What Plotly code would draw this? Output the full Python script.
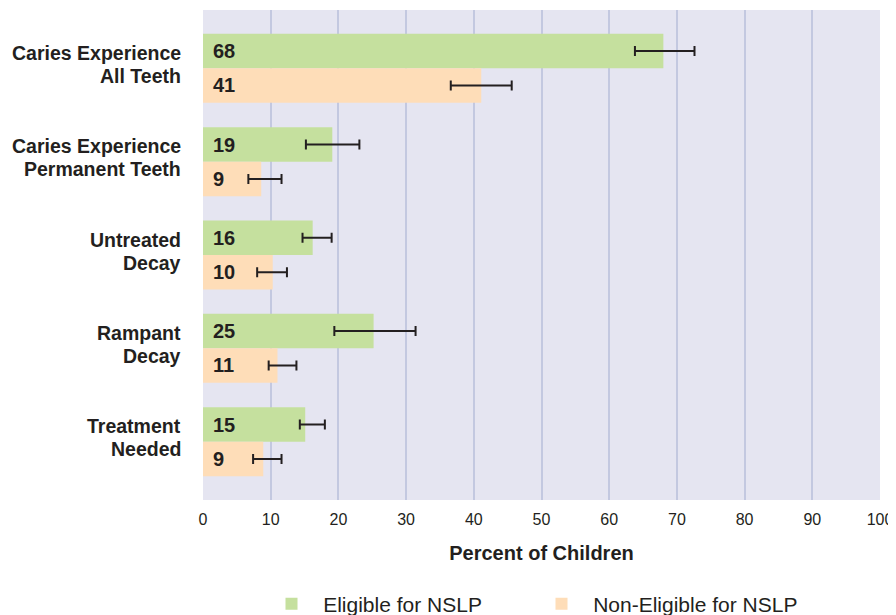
import plotly.graph_objects as go

categories = ["Caries Experience<br>All Teeth", "Caries Experience<br>Permanent Teeth",
              "Untreated<br>Decay", "Rampant<br>Decay", "Treatment<br>Needed"]
eligible = [68.0, 19.1, 16.2, 25.2, 15.1]
eligible_labels = ["68", "19", "16", "25", "15"]
eligible_low = [63.8, 15.2, 14.7, 19.4, 14.3]
eligible_high = [72.6, 23.1, 19.0, 31.4, 18.0]
non_eligible = [41.1, 8.6, 10.3, 11.0, 8.9]
non_eligible_labels = ["41", "9", "10", "11", "9"]
non_eligible_low = [36.6, 6.7, 8.0, 9.7, 7.4]
non_eligible_high = [45.6, 11.6, 12.4, 13.8, 11.6]
x_ticks = [0, 10, 20, 30, 40, 50, 60, 70, 80, 90, 100]

GREEN = "#C5E09E"
ORANGE = "#FEDDB8"
INK = "#231F20"
FONT = "Liberation Sans, Arial, sans-serif"
PAD = "\u00a0\u00a0"

def err(vals, lo, hi):
    return dict(type="data", symmetric=False,
                array=[h - v for v, h in zip(vals, hi)],
                arrayminus=[v - l for v, l in zip(vals, lo)],
                color=INK, thickness=2, width=5)

fig = go.Figure()
fig.add_trace(go.Bar(y=categories, x=eligible, orientation="h", name=PAD + "Eligible for NSLP",
                     marker=dict(color=GREEN, line=dict(width=0)),
                     error_x=err(eligible, eligible_low, eligible_high)))
fig.add_trace(go.Bar(y=categories, x=non_eligible, orientation="h",
                     name=PAD + "Non-Eligible for NSLP",
                     marker=dict(color=ORANGE, line=dict(width=0)),
                     error_x=err(non_eligible, non_eligible_low, non_eligible_high)))

for cat, lab in zip(categories, eligible_labels):
    fig.add_annotation(x=0, y=cat, text=lab, showarrow=False, xanchor="left", xshift=8,
                       yshift=17, font=dict(family=FONT, size=20, color=INK, weight="bold"))
for cat, lab in zip(categories, non_eligible_labels):
    fig.add_annotation(x=0, y=cat, text=lab, showarrow=False, xanchor="left", xshift=8,
                       yshift=-17, font=dict(family=FONT, size=20, color=INK, weight="bold"))

# category labels (two lines each, tight line spacing)
for cat in categories:
    lines = cat.split("<br>")
    for i, line in enumerate(lines):
        fig.add_annotation(x=0, y=cat, text=line, showarrow=False, xanchor="right",
                           xshift=-20, yshift=15.5 - 23 * i, yanchor="middle",
                           font=dict(family=FONT, size=19.5, color=INK, weight="bold"))

fig.update_layout(
    width=888, height=607,
    margin=dict(l=195, r=16, t=2, b=115, autoexpand=False),
    paper_bgcolor="white", plot_bgcolor="#E5E5F1",
    barmode="group", bargap=0.26, bargroupgap=0,
    font=dict(family=FONT, color=INK),
    showlegend=True,
    legend=dict(orientation="h", x=0.5, xanchor="center", yref="container", y=0.018,
                yanchor="middle",
                font=dict(family=FONT, size=21, color=INK), entrywidth=225,
                bgcolor="rgba(0,0,0,0)"),
    xaxis=dict(range=[0, 100], tickvals=x_ticks, showgrid=True, gridcolor="#C3C8E0",
               gridwidth=1.5, zeroline=False, showline=False, automargin=False,
               tickfont=dict(family=FONT, size=16, color=INK),
               ticks="outside", ticklen=5, tickcolor="rgba(0,0,0,0)",
               title=dict(text="<b>Percent of Children</b>",
                          font=dict(family=FONT, size=20, color=INK), standoff=18)),
    yaxis=dict(autorange=False, range=[4.625, -0.625], showgrid=False, zeroline=False,
               automargin=False, showticklabels=False),
)

fig.write_html("out.html")
